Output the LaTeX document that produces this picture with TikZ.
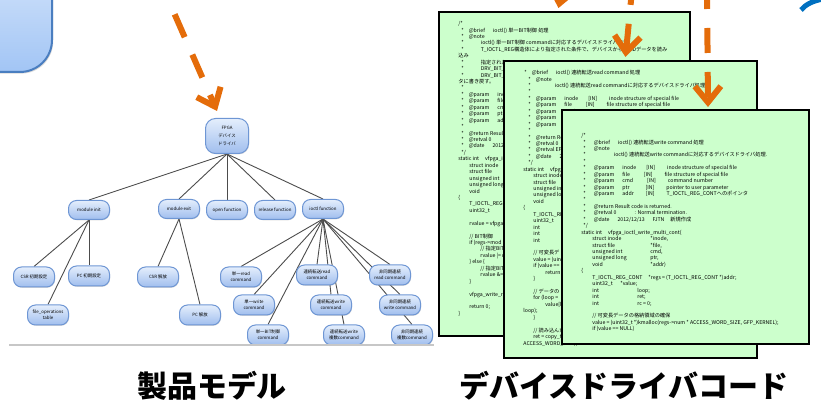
\documentclass[tikz,border=0pt]{standalone}
\usepackage{fontspec}
\setmainfont{Noto Sans CJK JP}
\usetikzlibrary{arrows.meta, positioning, shadows, backgrounds}

\definecolor{floworange}{RGB}{228,108,10}
\definecolor{sheetgreen}{RGB}{204,255,204}
\definecolor{mdlline}{RGB}{110,150,212}
\definecolor{mdltop}{RGB}{228,238,252}
\definecolor{mdlbot}{RGB}{160,190,238}
\definecolor{boxline}{RGB}{74,126,192}
\definecolor{boxtop}{RGB}{224,236,252}
\definecolor{boxbot}{RGB}{162,197,245}
\definecolor{arcblue}{RGB}{0,112,192}

% indentation, fixed columns and first-line strut inside the code listings
\newcommand\cind[1]{\hspace*{#1pt}}
\newcommand\ccol[2]{\makebox[#1pt][l]{#2}}
\newcommand\ctop{\rule{0pt}{2.6pt}}

\tikzset{
  mdl/.style={draw=mdlline, line width=0.5pt, rounded corners=4pt,
    top color=mdltop, bottom color=mdlbot, minimum width=20.5pt,
    minimum height=10pt, inner sep=0.3pt, align=center,
    font=\fontsize{2.2}{3}\selectfont,
    drop shadow={shadow xshift=0.3pt, shadow yshift=-0.4pt, opacity=0.3}},
  link/.style={draw=black!70, line width=0.45pt},
  sheet/.style={draw=black, line width=1pt, fill=sheetgreen,
    anchor=north west, inner sep=0pt},
  code/.style={anchor=north west, inner sep=0pt, align=left,
    font=\fontsize{2.6}{3.22}\selectfont},
  flow/.style={draw=floworange, line width=3pt,
    dash pattern=on 12.5pt off 9.5pt,
    -{Straight Barb[length=8pt, width=13pt]}},
  caption/.style={font=\bfseries\fontsize{15}{15}\selectfont},
}

\begin{document}
\begin{tikzpicture}[x=0.5pt, y=-0.5pt]
  \useasboundingbox (0,0) rectangle (821,406);
  \clip (0,0) rectangle (821,406);

  % box and arc cut off by the page edges
  \node[draw=boxline, line width=1pt, rounded corners=16pt,
    top color=boxtop, bottom color=boxbot, minimum width=70pt,
    minimum height=70pt, anchor=south east,
    drop shadow={shadow xshift=0.6pt, shadow yshift=-0.8pt, opacity=0.3}]
    (slidebox) at (53,73) {};
  \draw[arcblue, line width=2.5pt] (801,10) .. controls (806,4) and (813,1) .. (823,-1);

  % product model tree
  \begin{scope}
    \clip (0,95) rectangle (434,344.5);
    \node[mdl, minimum width=21.5pt, minimum height=17.5pt, rounded corners=5pt,
      font=\fontsize{2.2}{4}\selectfont] (fpga) at (227,136) {FPGA\\デバイス\\ドライバ};

    \node[mdl, minimum height=9.5pt] (minit) at (89,210) {module init};
    \node[mdl, minimum height=9.5pt] (mexit) at (179,209) {module exit};
    \node[mdl, minimum height=9.5pt] (fopen) at (227,210) {open function};
    \node[mdl, minimum height=9.5pt] (frel) at (275,210) {release function};
    \node[mdl, minimum height=9.5pt] (fioctl) at (323,209) {ioctl function};

    \node[mdl] (csrinit) at (34,277) {CSR 初期設定};
    \node[mdl] (pcinit) at (89,276) {PC 初期設定};
    \node[mdl] (fops) at (48,315) {file\_operations\\table};
    \node[mdl] (csrfree) at (158,277) {CSR 解放};
    \node[mdl] (pcfree) at (200,315) {PC 解放};

    \node[mdl] (rdone) at (241,277) {単一read\\command};
    \node[mdl] (wrone) at (254,305) {単一write\\command};
    \node[mdl] (bitone) at (268,335) {単一BIT制御\\command};
    \node[mdl] (rdcont) at (317,275) {連続転送read\\command};
    \node[mdl] (wrcont) at (331,305) {連続転送write\\command};
    \node[mdl] (wrmulti) at (344,335) {連続転送write\\複数command};
    \node[mdl] (rdasync) at (390,275) {非同期連続\\read command};
    \node[mdl] (wrasync) at (400,305) {非同期連続\\write command};
    \node[mdl] (wrmasync) at (412,335) {非同期連続\\複数command};

    \begin{scope}[on background layer]
      \foreach \c in {minit, mexit, fopen, frel, fioctl}
        \draw[link] (fpga.south) -- (\c.north);
      \foreach \c in {csrinit, pcinit, fops}
        \draw[link] (minit.south) -- (\c.north);
      \foreach \c in {csrfree, pcfree}
        \draw[link] (mexit.south) -- (\c.north);
      \foreach \c in {rdone, wrone, bitone, rdcont, wrcont, wrmulti, rdasync, wrasync, wrmasync}
        \draw[link] (fioctl.south) -- (\c.north);
    \end{scope}
  \end{scope}
  \draw[black!22, line width=0.6pt] (9,345) -- (434,345);

  % driver source listings, back to front
  \node[sheet, minimum width=125.5pt, minimum height=162pt] (sheet1) at (438,11) {};
  \begin{scope}
    \clip (sheet1.north west) rectangle (sheet1.south east);
    \node[code] (code1a) at (458,20) {\ctop/*\\
\cind{1.5}*\cind{2.5}@brief\cind{4}ioctl() 単一BIT制御 処理\\
\cind{1.5}*\cind{2.5}@note\\
\cind{1.5}*\cind{8.5}ioctl() 単一BIT制御 commandに対応するデバイスドライバ処理.\\
\cind{1.5}*\cind{8.5}T\_IOCTL\_REG構造体により指定された条件で、デバイスからREADデータを読み\\
込み};
    \node[code] (code1b) at (458,58.64) {\ctop\cind{1.5}*\cind{8.5}指定されたBIT\\
\cind{1.5}*\cind{8.5}DRV\_BIT\_C\\
\cind{1.5}*\cind{8.5}DRV\_BIT\_S\\
タに書き戻す。\\
\cind{1.5}*\\
\cind{1.5}*\cind{2.5}@param\cind{4}inode\\
\cind{1.5}*\cind{2.5}@param\cind{4}file\\
\cind{1.5}*\cind{2.5}@param\cind{4}cmd\\
\cind{1.5}*\cind{2.5}@param\cind{4}ptr\\
\cind{1.5}*\cind{2.5}@param\cind{4}addr\\
\cind{1.5}*\\
\cind{1.5}*\cind{2.5}@return Result\\
\cind{1.5}*\cind{2.5}@retval 0\\
\cind{1.5}*\cind{2.5}@date\cind{4}2012/12\\
\cind{1.5}*/\\
static int\cind{3}vfpga\_io\\
\cind{5.5}struct inode\\
\cind{5.5}struct file\\
\cind{5.5}unsigned int\\
\cind{5.5}unsigned long\\
\cind{5.5}void\\
\{\\
\cind{5.5}T\_IOCTL\_REG\\
\cind{5.5}uint32\_t\\
\mbox{}\\
\cind{5.5}rvalue = vfpga\_r\\
\mbox{}\\
\cind{5.5}// BIT制御\\
\cind{5.5}if (regs->mod\\
\cind{11}// 指定BIT\\
\cind{11}rvalue |= r\\
\cind{5.5}\} else \{\\
\cind{11}// 指定BIT\\
\cind{11}rvalue \&= \textasciitilde\\
\cind{5.5}\}\\
\mbox{}\\
\cind{5.5}vfpga\_write\_r\\
\mbox{}\\
\cind{5.5}return 0;\\
\}};
  \end{scope}

  \node[sheet, minimum width=126.5pt, minimum height=148.5pt] (sheet2) at (503,60) {};
  \begin{scope}
    \clip (sheet2.north west) rectangle (sheet2.south east);
    \node[code] (code2a) at (523,69) {\ctop\cind{0.5}*\cind{2.5}@brief\cind{4}ioctl() 連続転送read command 処理\\
\cind{2.5}*\cind{2.5}@note\\
\cind{2.5}*\cind{12}ioctl() 連続転送read commandに対応するデバイスドライバ処理.\\
\cind{2.5}*\\
\cind{2.5}*\cind{2.5}@param\cind{4}inode\cind{5}[IN]\cind{6}inode structure of special file\\
\cind{2.5}*\cind{2.5}@param\cind{4}file\cind{7}[IN]\cind{6}file structure of special file};
    \node[code] (code2b) at (523,107.64) {\ctop\cind{2.5}*\cind{2.5}@param\cind{4}cmd\\
\cind{2.5}*\cind{2.5}@param\cind{4}ptr\\
\cind{2.5}*\cind{2.5}@param\cind{4}addr\\
\cind{2.5}*\\
\cind{2.5}*\cind{2.5}@return Res\\
\cind{2.5}*\cind{2.5}@retval 0\\
\cind{2.5}*\cind{2.5}@retval EF\\
\cind{2.5}*\cind{2.5}@date\cind{4}20\\
\cind{2.5}*/\\
static int\cind{3}vfpga\\
\cind{5}struct inode\\
\cind{5}struct file\\
\cind{5}unsigned int\\
\cind{5}unsigned long\\
\cind{5}void\\
\{\\
\cind{5}T\_IOCTL\_REG\\
\cind{5}uint32\_t\\
\cind{5}int\\
\cind{5}int\\
\cind{5}int\\
\mbox{}\\
\cind{5}// 可変長デ\\
\cind{5}value = (uint3\\
\cind{5}if (value ==\\
\cind{11}return\\
\cind{5}\}\\
\mbox{}\\
\cind{5}// データの\\
\cind{5}for (loop =\\
\cind{11}value[lo\\
loop);\\
\cind{5}\}\\
\mbox{}\\
\cind{5}// 読み込んだ\\
\cind{5}ret = copy\_t\\
ACCESS\_WORD\_SIZE);};
  \end{scope}

  \node[sheet, minimum width=123.5pt, minimum height=117pt] (sheet3) at (561,109) {};
  \begin{scope}
    \clip (sheet3.north west) rectangle (sheet3.south east);
    \node[code] (code3) at (581,132) {\ctop/*\\
\cind{1}*\cind{4}@brief\cind{4}ioctl() 連続転送write command 処理\\
\cind{1}*\cind{4}@note\\
\cind{1}*\cind{14}ioctl() 連続転送write commandに対応するデバイスドライバ処理.\\
\cind{1}*\\
\cind{1}*\cind{4}@param\cind{4}inode\cind{5}[IN]\cind{6}inode structure of special file\\
\cind{1}*\cind{4}@param\cind{4}file\cind{7}[IN]\cind{6}file structure of special file\\
\cind{1}*\cind{4}@param\cind{4}cmd\cind{7}[IN]\cind{6}command number\\
\cind{1}*\cind{4}@param\cind{4}ptr\cind{8}[IN]\cind{6}pointer to user parameter\\
\cind{1}*\cind{4}@param\cind{4}addr\cind{6}[IN]\cind{6}T\_IOCTL\_REG\_CONTへのポインタ\\
\cind{1}*\\
\cind{1}*\cind{4}@return Result code is returned.\\
\cind{1}*\cind{4}@retval 0\cind{9}: Normal termination.\\
\cind{1}*\cind{4}@date\cind{4}2012/12/13\cind{4}FJTN\cind{3}新規作成\\
\cind{1}*/\\
static int\cind{3}vfpga\_ioctl\_write\_multi\_cont(\\
\cind{5.5}\ccol{29}{struct inode}*inode,\\
\cind{5.5}\ccol{29}{struct file}*file,\\
\cind{5.5}\ccol{29}{unsigned int}cmd,\\
\cind{5.5}\ccol{29}{unsigned long}ptr,\\
\cind{5.5}\ccol{29}{void}*addr)\\
\{\\
\cind{5.5}\ccol{28}{T\_IOCTL\_REG\_CONT}*regs = (T\_IOCTL\_REG\_CONT *)addr;\\
\cind{5.5}\ccol{14}{uint32\_t}*value;\\
\cind{5.5}\ccol{22.5}{int}loop;\\
\cind{5.5}\ccol{22.5}{int}ret;\\
\cind{5.5}\ccol{22.5}{int}rc = 0;\\
\mbox{}\\
\cind{5.5}// 可変長データの格納領域の確保\\
\cind{5.5}value = (uint32\_t *)kmalloc(regs->num * ACCESS\_WORD\_SIZE, GFP\_KERNEL);\\
\cind{5.5}if (value == NULL)};
  \end{scope}

  % dashed flows into the tree and the listings
  \coordinate (src1) at (157,-26);
  \coordinate (src2) at (568,-40);
  \coordinate (src3) at (633,-20);
  \coordinate (src4) at (707,-16);
  \draw[flow] (src1) -- ([xshift=-5pt, yshift=3.5pt]fpga.north);
  \draw[flow] (src2) -- ([xshift=-3pt, yshift=1.5pt]sheet1.north);
  \draw[flow] (src3) -- ([xshift=-2.5pt, yshift=1.5pt]sheet2.north);
  \draw[flow] (src4) -- ([xshift=11.25pt, yshift=1pt]sheet3.north);

  % captions
  \node[caption] (prodcap) at (212,386) {製品モデル};
  \node[caption] (drvcap) at (624,386) {デバイスドライバコード};
\end{tikzpicture}
\end{document}
